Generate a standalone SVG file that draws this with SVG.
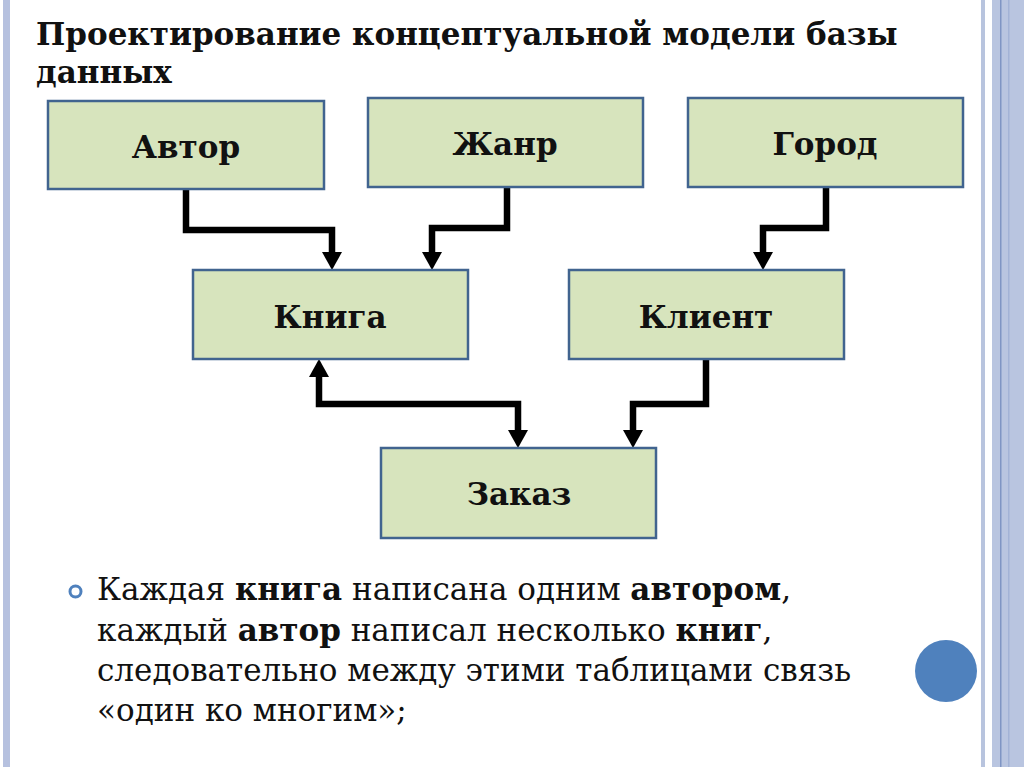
<svg xmlns="http://www.w3.org/2000/svg" width="1024" height="767" viewBox="0 0 1024 767">
<defs>
<style>
.box{fill:#d7e4bd;stroke:#41648f;stroke-width:2.5}
.lbl{font-family:"DejaVu Serif","Liberation Serif",serif;font-weight:bold;font-size:31px;fill:#111;text-anchor:middle}
.title{font-family:"DejaVu Serif","Liberation Serif",serif;font-weight:bold;font-size:31px;fill:#111}
.body{font-family:"DejaVu Serif","Liberation Serif",serif;font-size:31px;fill:#111}
.b{font-weight:bold}
.conn{fill:none;stroke:#000;stroke-width:6.5;stroke-linejoin:miter}
</style>
<marker id="arr" viewBox="0 0 18 20" refX="0" refY="10" markerWidth="18" markerHeight="20" markerUnits="userSpaceOnUse" orient="auto-start-reverse">
<path d="M0,0 L18,10 L0,20 z" fill="#000"/>
</marker>
</defs>
<rect width="1024" height="767" fill="#fff"/>
<g id="decor">
<rect x="3" y="0" width="7" height="767" fill="#b6c1df"/>
<rect x="981" y="0" width="4" height="767" fill="#b8c4de"/>
<rect x="992" y="0" width="32" height="767" fill="#b9c5e0"/>
<rect x="1000" y="0" width="1.5" height="767" fill="#7f95c4"/>
<rect x="1008" y="0" width="1.5" height="767" fill="#a3b3d6"/>
<circle cx="946" cy="671" r="31" fill="#4f81bd"/>
</g>
<g id="title">
<text class="title" x="36" y="45">Проектирование концептуальной модели базы</text>
<text class="title" x="36" y="83">данных</text>
</g>
<g id="connectors">
<path class="conn" d="M186,190 V230 H332 V252" marker-end="url(#arr)"/>
<path class="conn" d="M507,187 V228 H432 V252" marker-end="url(#arr)"/>
<path class="conn" d="M826,187 V228 H763 V252" marker-end="url(#arr)"/>
<path class="conn" d="M319,377 V404 H518 V430" marker-start="url(#arr)" marker-end="url(#arr)"/>
<path class="conn" d="M706,359 V404 H633 V430" marker-end="url(#arr)"/>
</g>
<g id="node-avtor"><rect class="box" x="48" y="101" width="276" height="88"/><text class="lbl" x="186" y="158">Автор</text></g>
<g id="node-zhanr"><rect class="box" x="368" y="98" width="275" height="89"/><text class="lbl" x="505" y="155">Жанр</text></g>
<g id="node-gorod"><rect class="box" x="688" y="98" width="275" height="89"/><text class="lbl" x="825" y="155">Город</text></g>
<g id="node-kniga"><rect class="box" x="193" y="270" width="275" height="89"/><text class="lbl" x="330" y="328">Книга</text></g>
<g id="node-klient"><rect class="box" x="569" y="270" width="275" height="89"/><text class="lbl" x="706" y="328">Клиент</text></g>
<g id="node-zakaz"><rect class="box" x="381" y="448" width="275" height="90"/><text class="lbl" x="519" y="505">Заказ</text></g>
<g id="bullet">
<circle cx="75.5" cy="591.5" r="5.5" fill="none" stroke="#4f81bd" stroke-width="3"/>
<text class="body" x="97" y="600">Каждая <tspan class="b">книга</tspan> написана одним <tspan class="b">автором</tspan>,</text>
<text class="body" x="97" y="641">каждый <tspan class="b">автор</tspan> написал несколько <tspan class="b">книг</tspan>,</text>
<text class="body" x="97" y="681">следовательно между этими таблицами связь</text>
<text class="body" x="97" y="721">«один ко многим»;</text>
</g>
</svg>
